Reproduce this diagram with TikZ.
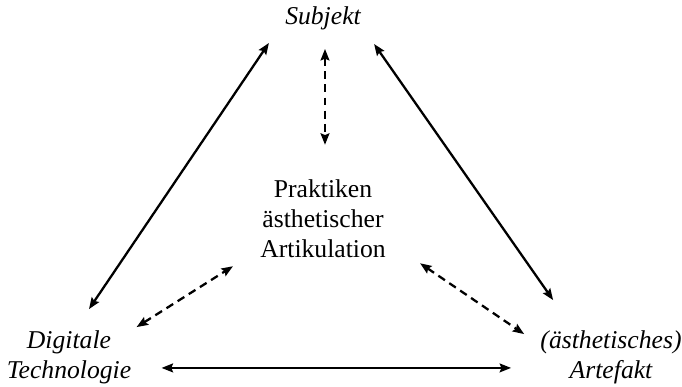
\documentclass[tikz,border=0pt]{standalone}
\usepackage{fontspec}
\setmainfont{Liberation Serif}
\usepackage{tikz}
\usetikzlibrary{arrows.meta,calc}

\begin{document}
\begin{tikzpicture}[x=0.02cm, y=-0.02cm,
        txt/.style={inner sep=0pt, align=center, font=\fontsize{14.6}{17}\selectfont},
        link/.style={line width=1.3pt, {Stealth[length=6.5pt,width=5pt,inset=1pt]}-{Stealth[length=6.5pt,width=5pt,inset=1pt]}},
        dlink/.style={link, dash pattern=on 4.5pt off 3pt}]
        \useasboundingbox (0,0) rectangle (682,386);
        \node[txt] (subj) at (323,18) {\itshape Subjekt};                 % three corners
        \node[txt] (tech) at (69,357) {\itshape Digitale\\\itshape Technologie};
        \node[txt] (art) at (611,357) {\itshape (ästhetisches)\\\itshape Artefakt};
        \node[txt] (prak) at (323,219) {Praktiken\\ästhetischer\\Artikulation}; % middle
        \draw [link] ($(tech.north)+(20,-21)$) -- ($(subj.south west)+(-16,13)$);   % outer triangle
        \draw [link] ($(subj.south east)+(13,14)$) -- ($(art.north west)+(13,-30)$);
        \draw [link] ($(tech.south east)+(30,-16)$) -- ($(art.south west)+(-29,-16)$);
        \draw [dlink] ($(subj.south)+(2,19)$) -- ($(prak.north)+(2,-35)$);          % dashed spokes
        \draw [dlink] ($(tech.north east)+(5,-3)$) -- ($(prak.south west)+(-27,8)$);
        \draw [dlink] ($(prak.south east)+(34,5)$) -- ($(art.north west)+(-16,4)$);
    \end{tikzpicture}
\end{document}
